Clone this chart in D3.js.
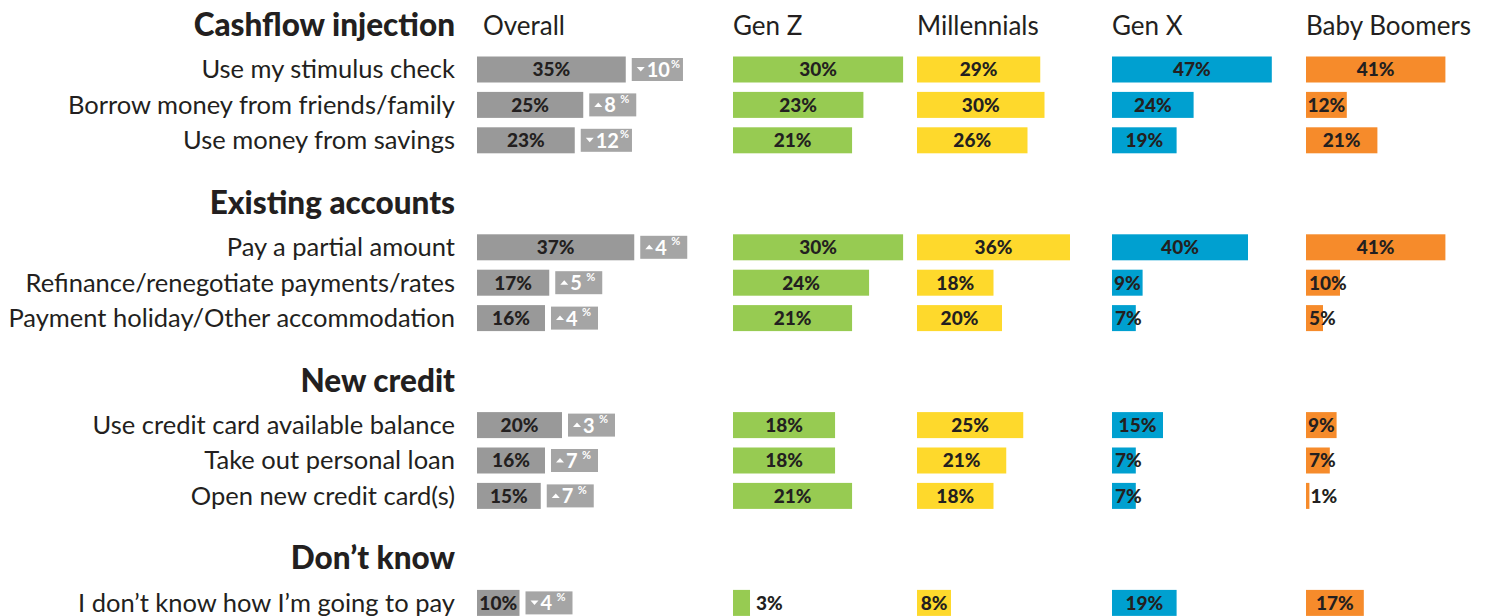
<!DOCTYPE html>
<html>
<head>
<meta charset="utf-8">
<script src="https://cdn.jsdelivr.net/npm/d3@7"></script>
<style>
  body { margin: 0; background: #fff; }
  text { font-family: Lato, "Noto Sans", sans-serif; }
</style>
</head>
<body>
<div id="chart"></div>
<script>
// section titles and the answers under each one
var sections = ["Cashflow injection", "Existing accounts", "New credit", "Don\u2019t know"];
var answers = [
	["Use my stimulus check", "Borrow money from friends/family", "Use money from savings"],
	["Pay a partial amount", "Refinance/renegotiate payments/rates", "Payment holiday/Other accommodation"],
	["Use credit card available balance", "Take out personal loan", "Open new credit card(s)"],
	["I don\u2019t know how I\u2019m going to pay"]
];

// column headers
var groups = ["Overall", "Gen Z", "Millennials", "Gen X", "Baby Boomers"];

// values (%), in answer order
var overall     = [35, 25, 23, 37, 17, 16, 20, 16, 15, 10];
var change      = [-10, 8, -12, 4, 5, 4, 3, 7, 7, -4];
var genZ        = [30, 23, 21, 30, 24, 21, 18, 18, 21, 3];
var millennials = [29, 30, 26, 36, 18, 20, 25, 21, 18, 8];
var genX        = [47, 24, 19, 40, 9, 7, 15, 7, 7, 19];
var boomers     = [41, 12, 21, 41, 10, 5, 9, 7, 1, 17];

var width = 1489, height = 616;
var labelRight = 455;
var barH = 26, badgeH = 23;

// column placement: start x and pixels for 100%
var cols = [
	{ name: groups[0], x: 477,  full: 425, color: "#999999", values: overall },
	{ name: groups[1], x: 733,  full: 567, color: "#97cb52", values: genZ },
	{ name: groups[2], x: 917,  full: 425, color: "#fed92c", values: millennials },
	{ name: groups[3], x: 1112, full: 340, color: "#00a0d0", values: genX },
	{ name: groups[4], x: 1306, full: 340, color: "#f68b2b", values: boomers }
];
cols.forEach(function (c) {
	c.scale = d3.scaleLinear().domain([0, 100]).range([0, c.full]);
});

var svg = d3.select("#chart").append("svg")
	.attr("width", width)
	.attr("height", height);

// work out the vertical positions
var rows = [], heads = [];
var y = 25;
sections.forEach(function (s, si) {
	heads.push({ name: s, y: y });
	y += 44.5;
	answers[si].forEach(function (a, ai) {
		rows.push({ label: a, y: y, i: rows.length });
		if (ai < answers[si].length - 1) y += 35.4;
	});
	y += 62.5;
});

// section titles
svg.append("g").selectAll("text")
	.data(heads)
	.enter().append("text")
	.attr("x", labelRight)
	.attr("y", function (d) { return d.y; })
	.attr("dy", "0.35em")
	.attr("text-anchor", "end")
	.attr("font-size", 31.5)
	.attr("font-weight", 900)
	.style("fill", "#231f20")
	.text(function (d) { return d.name; });

// column headers
svg.append("g").selectAll("text")
	.data(cols)
	.enter().append("text")
	.attr("x", function (d, i) { return i == 0 ? d.x + 6 : d.x; })
	.attr("y", 26)
	.attr("dy", "0.35em")
	.attr("font-size", 26)
	.style("fill", "#231f20")
	.text(function (d) { return d.name; });

// answer labels
svg.append("g").selectAll("text")
	.data(rows)
	.enter().append("text")
	.attr("x", labelRight)
	.attr("y", function (d) { return d.y; })
	.attr("dy", "0.35em")
	.attr("text-anchor", "end")
	.attr("font-size", 25.5)
	.style("fill", "#231f20")
	.text(function (d) { return d.label; });

// bars for each column
cols.forEach(function (c) {
	var g = svg.append("g");
	var bar = g.selectAll("g")
		.data(rows)
		.enter().append("g")
		.attr("transform", function (d) { return "translate(" + c.x + "," + d.y + ")"; });

	bar.append("rect")
		.attr("y", -barH / 2)
		.attr("width", function (d) { return c.scale(c.values[d.i]); })
		.attr("height", barH)
		.style("fill", c.color);

	bar.append("text")
		.attr("y", 0)
		.attr("dy", "0.36em")
		.attr("font-size", 19)
		.attr("font-weight", 900)
		.style("fill", "#231f20")
		.text(function (d) { return c.values[d.i] + "%"; })
		.each(function (d) {
			var w = c.scale(c.values[d.i]);
			var tw = this.getComputedTextLength();
			if (w >= tw) {
				d3.select(this).attr("x", w / 2).attr("text-anchor", "middle");
			} else if (w > 12 && w < 18 && c.full > 500) {
				// narrow bar in the wide column: label sits past the bar
				d3.select(this).attr("x", w + 6).attr("text-anchor", "start");
			} else {
				d3.select(this).attr("x", w < 8 ? w + 1 : 3).attr("text-anchor", "start");
			}
		});
});

// change badges next to the overall bars
var oc = cols[0];
var badge = svg.append("g").selectAll("g")
	.data(rows)
	.enter().append("g")
	.attr("transform", function (d) {
		return "translate(" + (oc.x + oc.scale(overall[d.i]) + 6) + "," + d.y + ")";
	});

badge.append("rect")
	.attr("y", -badgeH / 2)
	.attr("height", badgeH)
	.style("fill", "#a5a5a5");

badge.append("path")
	.attr("d", function (d) {
		return change[d.i] < 0 ? "M5,-2.5L13,-2.5L9,2Z" : "M5,2L13,2L9,-2.5Z";
	})
	.style("fill", "#fff");

badge.append("text")
	.attr("class", "num")
	.attr("x", 15)
	.attr("dy", "0.37em")
	.attr("font-size", 20)
	.attr("font-weight", "bold")
	.style("fill", "#fff")
	.text(function (d) { return Math.abs(change[d.i]); });

badge.append("text")
	.attr("y", -2)
	.attr("font-size", 11)
	.attr("font-weight", "bold")
	.style("fill", "#fff")
	.text("%")
	.each(function (d) {
		var nw = d3.select(this.parentNode).select(".num").node().getComputedTextLength();
		var px = Math.max(15 + nw + 1, 31);
		d3.select(this).attr("x", px);
		var bw = Math.max(px + this.getComputedTextLength() + 3, 47);
		d3.select(this.parentNode).select("rect").attr("width", bw);
	});
</script>
</body>
</html>
